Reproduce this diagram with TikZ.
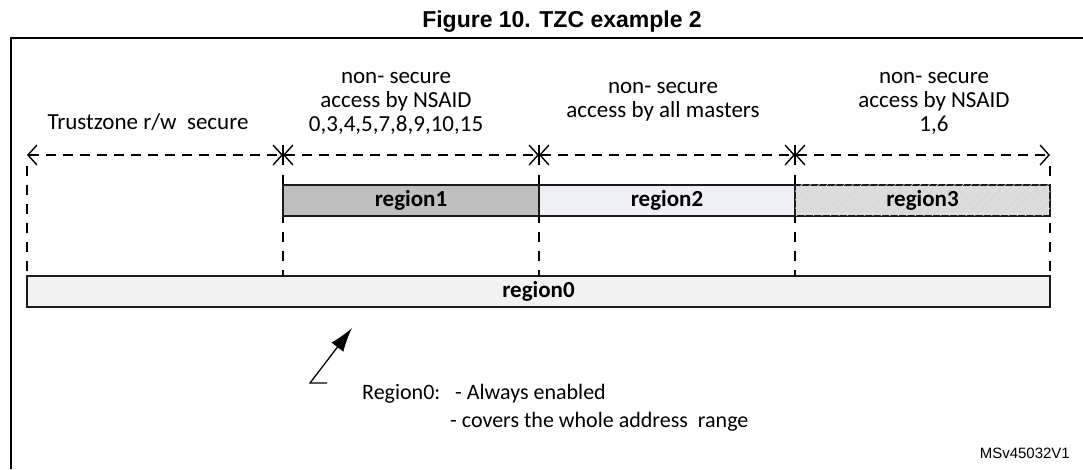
\documentclass[tikz,border=0pt]{standalone}
\usepackage{fontspec}
\setmainfont{Carlito}
\newfontfamily\arialfont{Liberation Sans}
\usetikzlibrary{arrows.meta,patterns.meta}
\definecolor{rone}{HTML}{BFBFBF}
\definecolor{rtwo}{HTML}{EEF0F5}
\definecolor{rthree}{HTML}{DCDCDC}
\definecolor{rzero}{HTML}{F2F2F2}
\definecolor{edge}{HTML}{1A1A1A}
\tikzset{
  lbl/.style={font=\fontsize{23}{24}\selectfont, align=center, inner sep=0pt},
  regfont/.style={font=\fontsize{23}{24}\selectfont\bfseries, text=black},
  regbox/.style={draw=edge, line width=2pt, minimum height=31pt, inner sep=0pt, regfont},
  span/.style={line width=1.4pt, dash pattern=on 10pt off 7pt,
    {Straight Barb[length=9pt,width=20pt,line width=1.4pt]}-{Straight Barb[length=9pt,width=20pt,line width=1.4pt]}},
  vdash/.style={line width=1.4pt, dash pattern=on 10pt off 9pt},
  vtick/.style={line width=1.4pt},
  note/.style={font=\fontsize{22}{24}\selectfont, anchor=west, inner sep=0pt},
}
\begin{document}
\begin{tikzpicture}[x=1pt,y=-1pt]
\useasboundingbox (0,0) rectangle (1083,469);
% title and frame
\node[font=\arialfont\fontsize{23}{26}\selectfont\bfseries, anchor=base, inner sep=0pt] (title) at (562,27) {Figure 10. TZC example 2};
\draw[line width=2pt] (1083,38) -- (11,38) -- (11,469);
% division coordinates
\coordinate (p0) at (27,155);
\coordinate (p1) at (283,155);
\coordinate (p2) at (539,155);
\coordinate (p3) at (795,155);
\coordinate (p4) at (1050,155);
\coordinate (q0) at (27,276);
\coordinate (q1) at (283,276);
\coordinate (q2) at (539,276);
\coordinate (q3) at (795,276);
\coordinate (q4) at (1050,276);
% vertical dashed lines
\draw[vdash] ([yshift=-11pt]p0) -- (q0);
\foreach \i in {1,2,3}{
  \draw[vtick] ([yshift=10pt]p\i) -- ([yshift=-10pt]p\i);
  \draw[vdash] ([yshift=-20pt]p\i) -- (q\i);}
\draw[vdash] ([yshift=-11pt]p4) -- (q4);
% span arrows
\draw[span] (p0) -- (p1);
\draw[span] (p1) -- (p2);
\draw[span] (p2) -- (p3);
\draw[span] (p3) -- (p4);
% labels
\node[lbl] (t0) at (148,122) {Trustzone r/w\ \ secure};
\node[lbl] (t1) at (396,103) {non- secure\\access by NSAID\\0,3,4,5,7,8,9,10,15};
\node[lbl] (t2) at (663,102) {non- secure\\access by all masters};
\node[lbl] (t3) at (934,103) {non- secure\\access by NSAID\\1,6};
% regions
\node[regbox, fill=rone, minimum width=256pt] (r1) at (411,200) {region1};
\node[regbox, fill=rtwo, minimum width=256pt] (r2) at (667,200) {region2};
\node[regbox, fill=rthree, minimum width=255pt,
  postaction={pattern={Lines[angle=45,distance=6pt,line width=0.6pt]}, pattern color=black!16}] (r3) at (922.5,200) {};
\node[regfont] (r3t) at (r3.center) {region3};
\node[regbox, fill=rzero, minimum width=1023pt] (r0) at (538.5,291.5) {region0};
% note arrow
\coordinate (a0) at (327,383);
\coordinate (a1) at (310,383);
\coordinate (a2) at (352,328);
\draw[line width=1.3pt, -{Latex[length=24pt,width=15pt]}] (a0) -- (a1) -- (a2);
\node[note] (n1) at (362,394) {Region0:\ \ \ - Always enabled};
\node[note] (n2) at (450,422) {- covers the whole address\ \ range};
\node[font=\arialfont\fontsize{15}{17}\selectfont, anchor=base east, inner sep=0pt] (id) at (1070,458) {MSv45032V1};
\end{tikzpicture}
\end{document}
